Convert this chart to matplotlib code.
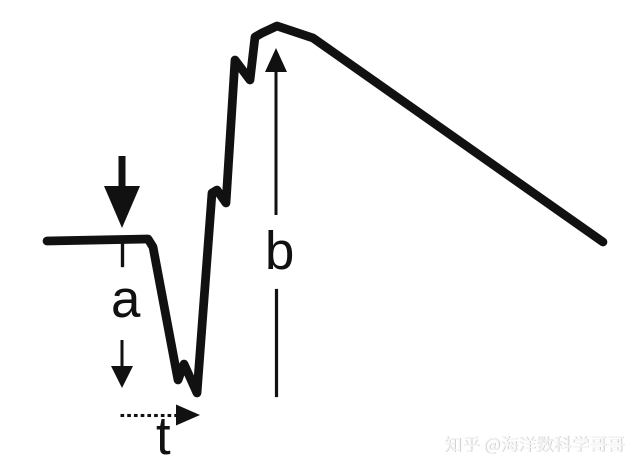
import matplotlib
matplotlib.use("Agg")
import matplotlib.pyplot as plt

# waveform trace (pixel-space coordinates of the schematic)
wave_x = [47, 148, 153, 178, 184, 197, 212, 217, 226, 235, 250, 255, 262, 277, 313, 603]
wave_y = [241, 239, 247, 380, 364, 393, 193, 190, 203, 60, 80, 37, 33, 26, 38, 242]

labels = ["a", "b", "t"]
watermark = "知乎 @海洋数科学哥哥"

W, H = 641, 473
fig = plt.figure(figsize=(W / 100, H / 100), dpi=100)
ax = fig.add_axes([0, 0, 1, 1])
ax.set_xlim(0, W)
ax.set_ylim(H, 0)
ax.axis("off")

ax.plot(wave_x, wave_y, color="#111111", lw=6.3, solid_joinstyle="round",
        solid_capstyle="round")

# big stimulus arrow
ax.arrow(122, 156, 0, 72, width=7, head_width=36, head_length=42,
         length_includes_head=True, color="#111111", lw=0)
# tick below baseline
ax.plot([122, 122], [241, 265], color="#111111", lw=2.4)
# amplitude a arrow
ax.arrow(122, 340, 0, 48, width=3, head_width=22, head_length=22,
         length_includes_head=True, color="#111111", lw=0)
# time t dotted arrow
ax.plot([120, 180], [415, 415], color="#111111", lw=2.2, ls=(0, (1.2, 1.0)))
ax.arrow(176, 415, 24, 0, width=0.1, head_width=21, head_length=24,
         length_includes_head=True, color="#111111", lw=0)
# b line
ax.arrow(276, 215, 0, -167, width=3, head_width=22, head_length=24,
         length_includes_head=True, color="#111111", lw=0)
ax.plot([276, 276], [290, 395], color="#111111", lw=2.3)

fkw = dict(family="Liberation Sans", fontsize=38, color="#111111",
           ha="center", va="baseline")
ax.text(125, 317, labels[0], **fkw)
ax.text(279, 268, labels[1], **fkw)
ax.text(163, 453, labels[2], **fkw)

wkw = dict(family=["Noto Sans CJK SC", "DejaVu Sans"], fontsize=12.8,
           ha="right", va="center")
ax.text(625.8, 445.8, watermark, color="#d2d2d2", **wkw)
ax.text(625, 445, watermark, color="#f6f6f6", **wkw)

fig.savefig("out.png", dpi=100, facecolor="white")
